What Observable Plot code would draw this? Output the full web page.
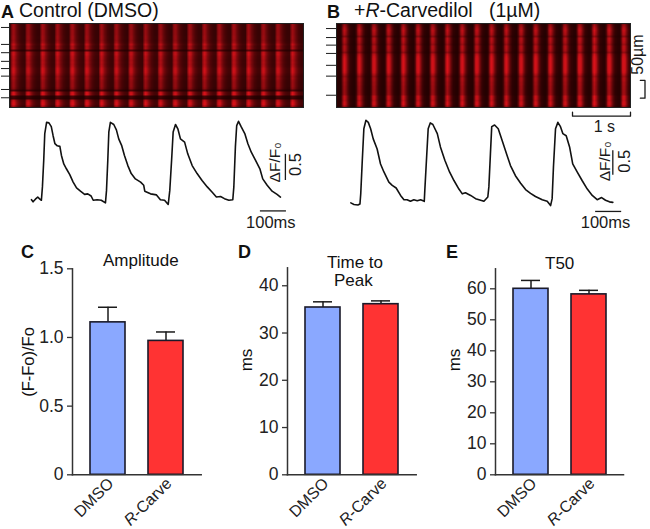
<!DOCTYPE html>
<html><head><meta charset="utf-8">
<script src="https://cdn.jsdelivr.net/npm/d3@7"></script>
<script src="https://cdn.jsdelivr.net/npm/@observablehq/plot@0.6"></script>
<style>
html,body{margin:0;padding:0;background:#fff}
#fig{position:relative;width:650px;height:529px;overflow:hidden;font-family:"Liberation Sans",Arial,sans-serif;color:#111}
#fig>svg,#fig>div.p{position:absolute}
.lab{position:absolute;line-height:1;white-space:pre}
.let{font-weight:bold;font-size:18px}
</style></head><body><div id="fig"></div>
<script>
// ---- line-scan images (seconds across, micrometres down) ----
const scanSeconds = 5.07, scanMicrons = 233;
const rowsA = [.72,.75,.75,.72,.72,.72,.75,.75,.72,.78,.95,.82,.85,.35,.98,1,.92,.9,.85,.88,.85,.9,1,1.02,1,.9,.78,.82,.75,.72,.72,.72,.65,.3,1.05,1.1,.25,.2,.95,1.1,1.1,.8];
const rowsB = [.6,.75,.85,.9,.85,.8,.6,.85,.85,.8,.7,.85,.85,.8,.65,.9,1,1.05,1.05,1.05,1.05,1.05,1.05,1.05,1,.85,.7,.8,.8,.75,.75,.72,.72,.7,.7,.72,.95,.95,.9,1,1,.75];
const beatA = [1,.95,1,1,1.02,1,.98,.98,.95,.95,.95,.95,.98,1,1,1,1,.98,.98,.98];
const beatB = [.95,.98,.98,.98,1,1,.98,.98,1,1,.98,.98,.98,.98,.98,.98,1.05,1.05,1.05,1.05];
const profileA = [.2,.72,.95,.85,.62,.46,.34,.27,.22,.2];
const profileB = [.1,.07,.07,.28,.8,1,.8,.5,.27,.14];
const ticksA = [11,58,81,105,125,146,183,206];
const ticksB = [14,39,60,83,116,146,199];
// ---- fluorescence traces (ms, dF/F0) ----
const timeA = [0,6,15,24,32,38,42,47,51,58,67,76,83,90,99,109,115,124,134,147,160,173,188,204,216,229,237,252,268,284,288,293,297,303,316,326,335,346,357,370,383,399,419,431,435,457,480,495,511,525,531,538,544,553,562,572,588,600,617,636,655,675,694,710,726,741,758,773,777,783,788,795,805,819,831,844,860,877,888,905,924,943,956];
const signalA = [.14,.10,.15,.19,.15,.13,.38,.88,1.38,1.59,1.58,1.51,1.34,1.19,1.15,1.14,.97,.81,.72,.61,.47,.36,.30,.24,.25,.21,.13,.14,.13,.08,.31,.88,1.41,1.59,1.55,1.45,1.28,1.16,.97,.78,.63,.53,.47,.41,.30,.25,.23,.14,.13,.05,.31,.88,1.41,1.55,1.47,1.28,1.22,1.0,.78,.63,.5,.38,.28,.19,.2,.16,.13,.14,.38,1.13,1.53,1.61,1.51,1.38,1.19,1.03,.88,.72,.53,.41,.30,.24,.19];
const timeB = [0,12,27,35,38,44,50,58,67,76,86,101,114,127,146,159,174,191,204,216,229,242,255,268,282,284,291,297,305,315,332,344,361,379,396,415,428,440,460,479,492,511,526,530,536,541,552,566,581,600,613,632,652,671,690,709,735,754,767,773,778,786,795,805,814,827,840,852,869,888,908,927,946,963,978,993,1006];
const signalB = [.08,.05,.04,.06,.25,.88,1.47,1.63,1.59,1.47,1.28,1.09,.81,.66,.47,.41,.36,.22,.14,.14,.11,.14,.12,.14,.11,.31,.94,1.47,1.58,1.55,1.38,1.13,.88,.66,.5,.34,.25,.27,.22,.16,.14,.11,.19,.38,1.0,1.51,1.54,1.47,1.25,.97,.78,.59,.45,.33,.26,.2,.14,.11,.03,.16,.75,1.47,1.59,1.51,1.38,1.34,1.13,.81,.66,.5,.34,.22,.14,.18,.13,.10,.09];
// ---- bar panels ----
const groups = ["DMSO","R-Carve"];
const amplitude = [1.11,.975], amplitudeErr = [1.22,1.04];
const ttp = [35.4,36.1], ttpErr = [36.6,36.8];
const t50 = [60,58.2], t50Err = [62.7,59.5];
const barColors = ["#8aa8ff","#ff3333"];

const fig = document.getElementById("fig");
const FONT = '"Liberation Sans",Arial,sans-serif';
const INK = "#1a1a1a";
function put(el,left,top){el.style.position="absolute";el.style.left=left+"px";el.style.top=top+"px";fig.appendChild(el);return el;}
function label(html,left,top,size,cls){const d=document.createElement("div");d.className="lab "+(cls||"");d.innerHTML=html;d.style.left=left+"px";d.style.top=top+"px";if(size)d.style.fontSize=size+"px";fig.appendChild(d);}

function scanPlot(rows,beats,profile,ticks,m,h,extra){
  const values = rows.flatMap(r=>beats.flatMap(b=>profile.map(p=>p*r*b)));
  return Plot.plot({
    width:325,height:h,marginLeft:m[0],marginRight:m[1],marginTop:23,marginBottom:h-107,
    style:{fontFamily:FONT,background:"transparent",overflow:"visible"},
    x:{domain:[0,scanSeconds],axis:null},
    y:{domain:[scanMicrons,0],axis:null},
    color:{type:"linear",domain:[0,1],range:["#1c0000","#d8121a"],clamp:true},
    marks:[
      Plot.raster(values,{width:beats.length*profile.length,height:rows.length,x1:0,x2:scanSeconds,y1:0,y2:scanMicrons,fill:d=>d}),
      Plot.frame({stroke:"#222",strokeWidth:1}),
      Plot.axisY(ticks,{anchor:"left",tickSize:m[0]-1,tickFormat:()=>"",stroke:INK,label:null}),
      ...(extra||[])
    ]
  });
}
function tracePlot(time,signal,dom,bar,vbar){
  const pts = time.map((t,i)=>({t,f:signal[i]}));
  return Plot.plot({
    width:325,height:125,margin:0,
    style:{fontFamily:FONT,background:"transparent",overflow:"visible"},
    x:{domain:dom,axis:null},
    y:{domain:[-.531,1.8125],axis:null},
    marks:[
      Plot.line(pts,{x:"t",y:"f",stroke:"#111",strokeWidth:1.6}),
      Plot.ruleY([bar.f],{x1:bar.t1,x2:bar.t2,stroke:INK,strokeWidth:1.3}),
      Plot.ruleX([vbar.t],{y1:vbar.f1,y2:vbar.f2,stroke:INK,strokeWidth:1.3}),
      Plot.text(["100ms"],{x:bar.tc,y:-.3,text:d=>d,fontSize:16.5,fill:INK}),
      Plot.text(["\u0394F/F\u2080"],{x:vbar.t-vbar.gap,y:vbar.fm,text:d=>d,rotate:-90,fontSize:15.5,fill:INK}),
      Plot.text(["0.5"],{x:vbar.t+vbar.gap2,y:vbar.fn,text:d=>d,rotate:-90,fontSize:16.5,fill:INK})
    ]
  });
}
function barPlot(values,errs,domain,ticks,fmt,mt,mr){
  const rows = groups.map((g,i)=>({g,v:values[i],e:errs[i]}));
  const p = Plot.plot({
    width:210,height:289,marginLeft:72,marginRight:mr,marginTop:mt,marginBottom:54.7,
    style:{fontFamily:FONT,fontSize:"18px",background:"transparent",overflow:"visible"},
    x:{type:"band",domain:groups,range:[78.5,194.5],paddingInner:.388,paddingOuter:.194,axis:null},
    y:{domain,axis:null},
    color:{domain:groups,range:barColors},
    marks:[
      Plot.ruleX(rows,{x:"g",y1:"v",y2:"e",stroke:INK,strokeWidth:1.5}),
      Plot.tickY(rows,{x:"g",y:"e",insetLeft:8,insetRight:8,stroke:INK,strokeWidth:1.5}),
      Plot.barY(rows,{x:"g",y:"v",fill:"g",stroke:"#1a1a2a",strokeWidth:1.6}),
      Plot.frame({anchor:"left",stroke:"#333",strokeWidth:1.5}),
      Plot.frame({anchor:"bottom",stroke:"#333",strokeWidth:1.5}),
      Plot.axisY(ticks,{anchor:"left",tickSize:5,tickPadding:4,tickFormat:fmt,stroke:"#333",fill:"#222",label:null,fontSize:17.5,strokeWidth:1.3}),
      Plot.axisX(groups,{anchor:"bottom",tickSize:0,tickPadding:6,tickRotate:-45,label:null,fill:"#222",fontSize:16,dx:3})
    ]
  });
  p.querySelectorAll("text").forEach(t=>{ if(t.textContent==="R-Carve"){ t.innerHTML='<tspan font-style="italic">R</tspan>-Carve'; }});
  return p;
}

// Line scans: the 1 s and 50 um brackets live on the B image's scales
const bracketS = [[4.07,246],[4.07,257],[5.07,257],[5.07,246]].map(([x,y])=>({x,y}));
const bracketU = [[5.24,158],[5.32,158],[5.32,207],[5.24,207]].map(([x,y])=>({x,y}));
put(scanPlot(rowsA,beatA,profileA,ticksA,[9,22],125),0,0);
put(scanPlot(rowsB,beatB,profileB,ticksB,[11,20],140,[
  Plot.line(bracketS,{x:"x",y:"y",stroke:INK,strokeWidth:1.3}),
  Plot.line(bracketU,{x:"x",y:"y",stroke:INK,strokeWidth:1.3}),
  Plot.text(["1 s"],{x:4.62,y:288,text:d=>d,fontSize:16,fill:INK}),
  Plot.text(["50\u00b5m"],{x:5.2,y:86,text:d=>d,rotate:-90,fontSize:16,fill:INK})
]),325,0);
put(tracePlot(timeA,signalA,[-119,1129],{f:-.07,t1:879,t2:979,tc:919},{t:975,f1:.99,f2:.5,gap:38,gap2:38,fm:.84,fn:.8}),0,110);
put(tracePlot(timeB,signalB,[-97.3,1150.7],{f:-.08,t1:940,t2:1040,tc:978},{t:1006,f1:1.06,f2:.6,gap:31,gap2:46,fm:.86,fn:.86}),325,110);

put(barPlot(amplitude,amplitudeErr,[0,1.5],[0,.5,1,1.5],d=>d===0?"0":d3.format(".1f")(d),28.3,9.3),0,240);
put(barPlot(ttp,ttpErr,[0,43.8],[0,10,20,30,40],d=>d,27.3,9.3),215,240);
put(barPlot(t50,t50Err,[0,66.45],[0,10,20,30,40,50,60],d=>d,28.3,10),423,240);

// Titles and panel letters
label("A",1,3,0,"let");label("Control (DMSO)",19,1,19.5);
label("B",327,3,0,"let");label('+<i>R</i>-Carvedilol   (1\u00b5M)',354,1,19.5);
label("C",21,243,0,"let");label("D",238,243,0,"let");label("E",446,243,0,"let");
label("Amplitude",103,252,17);
label("Time to",327,254,17);label("Peak",334,272,17);
label("T50",545,255,17);
function vert(txt,cx,cy,size){const d=document.createElement("div");d.className="lab";d.textContent=txt;d.style.fontSize=size+"px";d.style.left=cx+"px";d.style.top=cy+"px";d.style.transform="translate(-50%,-50%) rotate(-90deg)";fig.appendChild(d);}
vert("(F-Fo)/Fo",28,362,16.5);vert("ms",246,360,17);vert("ms",454,360,17);
</script></body></html>
